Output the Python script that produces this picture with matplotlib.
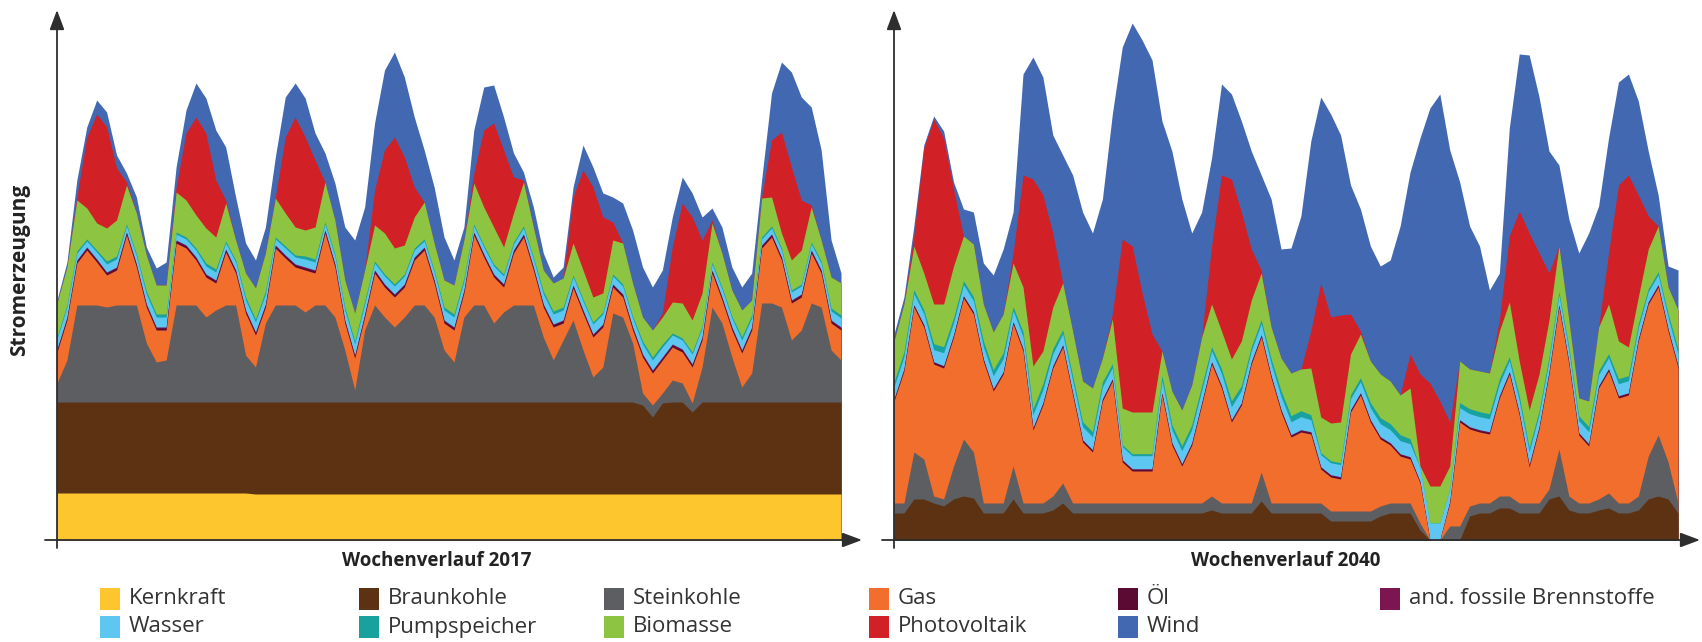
import numpy as np
import matplotlib
matplotlib.use("Agg")
import matplotlib.pyplot as plt
from matplotlib.patches import Rectangle

plt.rcParams['font.family'] = ['Open Sans', 'DejaVu Sans']

W, H = 1702, 642

# Zeitachse: 80 Stuetzstellen ueber eine Woche
stunden = np.linspace(0, 168, 80)

# ---------------- Wochenverlauf 2017 (Oberkanten) ----------------
kern_2017 = [47, 47, 47, 47, 47, 47, 47, 47, 47, 47, 47, 47, 47, 47, 47, 47, 47, 47, 47, 47,
             46, 46, 46, 46, 46, 46, 46, 46, 46, 46, 46, 46, 46, 46, 46, 46, 46, 46, 46, 46,
             46, 46, 46, 46, 46, 46, 46, 46, 46, 46, 46, 46, 46, 46, 46, 46, 46, 46, 46, 46,
             46, 46, 46, 46, 46, 46, 46, 46, 46, 46, 46, 46, 46, 46, 46, 46, 46, 46, 46, 46]
braun_2017 = [138, 138, 138, 138, 138, 138, 138, 138, 138, 138, 138, 138, 138, 138, 138, 138, 138, 138, 138, 138,
              138, 138, 138, 138, 138, 138, 138, 138, 138, 138, 138, 138, 138, 138, 138, 138, 138, 138, 138, 138,
              138, 138, 138, 138, 138, 138, 138, 138, 138, 138, 138, 138, 138, 138, 138, 138, 138, 138, 138, 135,
              123, 137, 138, 138, 128, 138, 138, 138, 138, 138, 138, 138, 138, 138, 138, 138, 138, 138, 138, 138]
stein_2017 = [157, 180, 235, 235, 235, 233, 235, 235, 235, 197, 178, 180, 235, 235, 235, 223, 230, 235, 235, 185,
              173, 217, 235, 235, 235, 228, 235, 235, 223, 190, 150, 210, 235, 223, 213, 223, 235, 235, 223, 190,
              178, 223, 235, 235, 217, 228, 235, 235, 235, 203, 180, 200, 220, 190, 163, 173, 227, 223, 197, 147,
              135, 147, 160, 157, 137, 173, 233, 217, 183, 153, 167, 237, 237, 233, 200, 210, 237, 233, 190, 180]
gas_2017 = [188, 220, 277, 290, 278, 265, 270, 305, 273, 233, 210, 210, 297, 292, 280, 263, 257, 288, 267, 227,
            205, 233, 292, 282, 273, 270, 267, 307, 273, 217, 182, 223, 267, 253, 243, 253, 280, 290, 257, 217,
            210, 247, 305, 283, 263, 253, 287, 303, 270, 233, 213, 217, 252, 227, 203, 213, 253, 243, 210, 183,
            167, 180, 193, 188, 173, 200, 267, 240, 210, 187, 210, 292, 303, 280, 237, 243, 287, 267, 217, 210]
oel_2017 = [2, 2, 2, 2, 2, 2, 2, 2, 2, 2, 2, 2, 2, 2, 2, 2, 2, 2, 2, 2,
            2, 2, 2, 2, 2, 2, 2, 2, 2, 2, 2, 2, 2, 2, 2, 2, 2, 2, 2, 2,
            2, 2, 2, 2, 2, 2, 2, 2, 2, 2, 2, 2, 2, 2, 2, 2, 2, 2, 2, 2,
            2, 2, 2, 2, 2, 2, 2, 2, 2, 2, 2, 2, 2, 2, 2, 2, 2, 2, 2, 2]
fossil_2017 = [1, 1, 1, 1, 1, 1, 1, 1, 1, 1, 1, 1, 1, 1, 1, 1, 1, 1, 1, 1,
               1, 1, 1, 1, 1, 1, 1, 1, 1, 1, 1, 1, 1, 1, 1, 1, 1, 1, 1, 1,
               1, 1, 1, 1, 1, 1, 1, 1, 1, 1, 1, 1, 1, 1, 1, 1, 1, 1, 1, 1,
               1, 1, 1, 1, 1, 1, 1, 1, 1, 1, 1, 1, 1, 1, 1, 1, 1, 1, 1, 1]
wasser_2017 = [10, 10, 7, 6, 7, 8, 8, 6, 8, 10, 10, 10, 6, 6, 7, 8, 8, 6, 8, 10,
               10, 10, 6, 7, 7, 8, 8, 6, 8, 10, 11, 10, 7, 8, 8, 8, 7, 6, 8, 10,
               10, 9, 6, 7, 8, 8, 6, 6, 8, 10, 10, 10, 8, 9, 10, 10, 8, 8, 9, 10,
               10, 10, 9, 9, 10, 9, 6, 8, 9, 10, 9, 6, 6, 7, 8, 8, 6, 7, 9, 9]
pump_2017 = [2, 2, 2, 2, 2, 3, 3, 2, 2, 3, 3, 3, 2, 2, 2, 3, 3, 2, 2, 3,
             3, 3, 2, 2, 2, 3, 3, 2, 2, 3, 3, 3, 2, 2, 2, 2, 2, 2, 2, 3,
             3, 3, 2, 2, 2, 2, 2, 2, 2, 3, 3, 3, 2, 2, 2, 2, 2, 2, 2, 3,
             3, 3, 2, 2, 2, 2, 2, 2, 2, 3, 3, 2, 2, 2, 2, 2, 2, 2, 3, 3]
bio_2017 = [237, 273, 340, 332, 317, 312, 320, 355, 327, 285, 255, 255, 348, 340, 325, 312, 303, 337, 300, 267,
            252, 287, 342, 327, 313, 310, 313, 358, 320, 260, 227, 270, 315, 307, 292, 295, 323, 338, 297, 260,
            255, 300, 357, 333, 313, 293, 327, 358, 313, 270, 257, 262, 297, 270, 243, 247, 300, 297, 257, 223,
            210, 223, 238, 237, 220, 247, 317, 287, 250, 230, 240, 342, 343, 307, 280, 290, 333, 300, 263, 257]
pv_2017 = [237, 273, 343, 403, 426, 413, 372, 358, 327, 285, 255, 255, 353, 407, 423, 407, 360, 340, 300, 267,
           252, 287, 343, 403, 423, 403, 380, 358, 320, 260, 227, 270, 350, 390, 403, 383, 353, 338, 297, 260,
           255, 300, 367, 410, 417, 390, 363, 360, 313, 270, 257, 262, 343, 370, 353, 323, 318, 297, 257, 223,
           210, 227, 293, 337, 323, 300, 320, 287, 250, 230, 240, 343, 400, 408, 373, 340, 335, 300, 263, 257]
wind_2017 = [240, 278, 360, 413, 440, 428, 385, 367, 343, 293, 272, 278, 373, 430, 457, 442, 410, 393, 343, 297,
             280, 313, 383, 443, 457, 442, 407, 387, 357, 313, 300, 333, 417, 470, 488, 463, 423, 390, 353, 303,
             280, 313, 410, 453, 455, 423, 387, 368, 333, 287, 263, 273, 353, 395, 373, 347, 343, 337, 310, 273,
             253, 270, 323, 363, 347, 323, 332, 313, 273, 253, 267, 360, 447, 478, 468, 443, 433, 390, 300, 267]

# ---------------- Wochenverlauf 2040 ----------------
kern_2040 = [0, 0, 0, 0, 0, 0, 0, 0, 0, 0, 0, 0, 0, 0, 0, 0, 0, 0, 0, 0,
             0, 0, 0, 0, 0, 0, 0, 0, 0, 0, 0, 0, 0, 0, 0, 0, 0, 0, 0, 0,
             0, 0, 0, 0, 0, 0, 0, 0, 0, 0, 0, 0, 0, 0, 0, 0, 0, 0, 0, 0,
             0, 0, 0, 0, 0, 0, 0, 0, 0, 0, 0, 0, 0, 0, 0, 0, 0, 0, 0, 0]
braun_2040 = [27, 27, 41, 41, 37, 34, 41, 44, 42, 27, 27, 27, 41, 27, 27, 27, 30, 37, 27, 27,
              27, 27, 27, 27, 27, 27, 27, 27, 27, 27, 27, 27, 30, 27, 27, 27, 27, 39, 27, 27,
              27, 27, 27, 27, 19, 19, 19, 19, 19, 24, 27, 27, 27, 10, 0, 0, 0, 0, 24, 27,
              27, 32, 32, 27, 27, 27, 41, 44, 30, 27, 27, 30, 32, 27, 27, 30, 41, 44, 41, 27]
stein_2040 = [37, 37, 88, 81, 44, 41, 74, 101, 88, 37, 37, 37, 74, 37, 37, 37, 44, 57, 37, 37,
              37, 37, 37, 37, 37, 37, 37, 37, 37, 37, 37, 37, 44, 37, 37, 37, 37, 68, 37, 37,
              37, 37, 37, 37, 29, 29, 29, 29, 29, 34, 37, 37, 37, 17, 0, 0, 14, 14, 34, 37,
              37, 44, 44, 37, 37, 37, 51, 91, 44, 37, 37, 41, 47, 37, 37, 44, 84, 105, 78, 37]
gas_2040 = [139, 169, 233, 213, 176, 172, 203, 242, 226, 179, 149, 166, 216, 189, 110, 135, 172, 193, 145, 98,
            88, 139, 159, 78, 69, 69, 69, 145, 95, 74, 95, 135, 176, 152, 118, 135, 176, 203, 162, 128,
            103, 108, 106, 71, 63, 61, 128, 145, 118, 101, 95, 84, 81, 57, 0, 0, 37, 118, 111, 108,
            106, 142, 166, 125, 73, 111, 166, 233, 176, 105, 94, 152, 169, 142, 145, 199, 236, 253, 209, 172]
oel_2040 = [1.5, 1.5, 1.5, 1.5, 1.5, 1.5, 1.5, 1.5, 1.5, 1.5, 1.5, 1.5, 1.5, 1.5, 1.5, 1.5, 1.5, 1.5, 1.5, 1.5,
            1.5, 1.5, 1.5, 1.5, 1.5, 1.5, 1.5, 1.5, 1.5, 1.5, 1.5, 1.5, 1.5, 1.5, 1.5, 1.5, 1.5, 1.5, 1.5, 1.5,
            1.5, 1.5, 1.5, 1.5, 1.5, 1.5, 1.5, 1.5, 1.5, 1.5, 1.5, 1.5, 1.5, 1.0, 0, 0, 1.0, 1.5, 1.5, 1.5,
            1.5, 1.5, 1.5, 1.5, 1.5, 1.5, 1.5, 1.5, 1.5, 1.5, 1.5, 1.5, 1.5, 1.5, 1.5, 1.5, 1.5, 1.5, 1.5, 1.5]
fossil_2040 = [0.8, 0.8, 0.8, 0.8, 0.8, 0.8, 0.8, 0.8, 0.8, 0.8, 0.8, 0.8, 0.8, 0.8, 0.8, 0.8, 0.8, 0.8, 0.8, 0.8,
               0.8, 0.8, 0.8, 0.8, 0.8, 0.8, 0.8, 0.8, 0.8, 0.8, 0.8, 0.8, 0.8, 0.8, 0.8, 0.8, 0.8, 0.8, 0.8, 0.8,
               0.8, 0.8, 0.8, 0.8, 0.8, 0.8, 0.8, 0.8, 0.8, 0.8, 0.8, 0.8, 0.8, 0.5, 0, 0, 0.5, 0.8, 0.8, 0.8,
               0.8, 0.8, 0.8, 0.8, 0.8, 0.8, 0.8, 0.8, 0.8, 0.8, 0.8, 0.8, 0.8, 0.8, 0.8, 0.8, 0.8, 0.8, 0.8, 0.8]
wasser_2040 = [12, 12, 11, 11, 12, 13, 12, 11, 11, 12, 13, 13, 11, 12, 13, 13, 12, 11, 12, 13,
               13, 12, 11, 13, 13, 13, 13, 12, 13, 13, 13, 12, 11, 12, 13, 12, 11, 11, 12, 13,
               13, 13, 12, 12, 12, 12, 11, 11, 12, 13, 13, 13, 13, 14, 17, 17, 12, 12, 13, 13,
               13, 12, 11, 12, 13, 12, 11, 10, 11, 12, 12, 11, 11, 12, 12, 11, 10, 10, 11, 12]
pump_2040 = [5, 5, 4, 4, 6, 6, 5, 4, 4, 6, 6, 6, 4, 5, 6, 6, 5, 4, 5, 5,
             5, 5, 4, 2, 2, 2, 2, 5, 5, 5, 5, 5, 4, 5, 6, 5, 4, 4, 5, 6,
             6, 6, 5, 2, 2, 2, 4, 4, 5, 6, 6, 6, 5, 0, 0, 0, 0, 5, 5, 5,
             5, 5, 4, 5, 4, 4, 4, 3, 4, 5, 5, 4, 4, 5, 5, 4, 3, 3, 4, 5]
bio_2040 = [199, 236, 294, 267, 236, 236, 274, 304, 296, 236, 208, 226, 277, 253, 174, 189, 233, 257, 209, 159,
            152, 182, 221, 132, 128, 128, 128, 189, 149, 130, 155, 203, 236, 209, 181, 199, 240, 267, 213, 182,
            167, 171, 172, 123, 117, 118, 186, 206, 179, 166, 159, 145, 152, 74, 54, 54, 74, 179, 171, 169,
            167, 209, 238, 179, 130, 166, 220, 294, 220, 142, 139, 213, 236, 199, 193, 243, 291, 314, 253, 230]
pv_2040 = [199, 236, 304, 392, 421, 402, 351, 304, 296, 236, 208, 226, 287, 365, 361, 345, 307, 257, 209, 159,
           152, 182, 226, 301, 294, 247, 206, 189, 149, 130, 155, 203, 294, 365, 361, 328, 291, 270, 213, 182,
           167, 171, 209, 257, 223, 225, 226, 209, 179, 166, 159, 145, 186, 166, 157, 139, 118, 179, 171, 169,
           167, 220, 304, 329, 307, 287, 267, 294, 220, 142, 139, 213, 287, 355, 365, 345, 324, 314, 253, 230]
wind_2040 = [206, 243, 314, 395, 424, 409, 358, 331, 328, 277, 265, 291, 328, 466, 483, 463, 405, 385, 365, 328,
             307, 341, 426, 493, 517, 500, 480, 419, 389, 341, 307, 328, 382, 456, 446, 419, 389, 365, 341, 291,
             292, 324, 399, 443, 426, 405, 355, 331, 294, 274, 280, 314, 368, 402, 432, 446, 390, 358, 314, 294,
             250, 267, 412, 486, 485, 443, 389, 375, 321, 287, 307, 334, 402, 458, 466, 439, 389, 345, 274, 270]

namen = ["Kernkraft", "Braunkohle", "Steinkohle", "Gas", "Öl", "and. fossile Brennstoffe",
         "Wasser", "Pumpspeicher", "Biomasse", "Photovoltaik", "Wind"]
farben = ["#FEC62E", "#5C3212", "#5D5E61", "#F16E2D", "#5A0A33", "#7C1650",
          "#5DC6F1", "#19A19E", "#8DC441", "#D22027", "#4168B0"]

AX_COL = "#2e2e2e"


def px_ax(x0, x_tip):
    ax = fig.add_axes([x0 / W, (H - 540) / H, (x_tip - x0) / W, 530 / H])
    ax.set_xlim(0, 168 * (x_tip - x0) / 784)
    ax.set_ylim(0, 530)
    ax.axis("off")
    breite = x_tip - x0
    kw = dict(arrowstyle="-|>,head_length=0.75,head_width=0.28", color=AX_COL,
              lw=1.3, mutation_scale=16, shrinkA=0, shrinkB=0)
    ax.annotate("", xy=(0, 1), xytext=(0, -8 / 530), xycoords="axes fraction",
                arrowprops=kw, annotation_clip=False, zorder=5)
    ax.annotate("", xy=(1, 0), xytext=(-12 / breite, 0), xycoords="axes fraction",
                arrowprops=kw, annotation_clip=False, zorder=5)
    return ax


def zeichne(ax, kern, braun, stein, gas, oel, fossil, wasser, pump, bio, pv, wind):
    o1 = np.asarray(kern, float)
    o2 = np.maximum(braun, o1)
    o3 = np.maximum(stein, o2)
    o4 = np.maximum(gas, o3)
    o5 = o4 + np.asarray(oel)
    o6 = o5 + np.asarray(fossil)
    o7 = o6 + np.asarray(wasser)
    o8 = o7 + np.asarray(pump)
    o9 = np.maximum(bio, o8)
    o10 = np.maximum(pv, o9)
    o11 = np.maximum(wind, o10)
    kanten = [o1, o2, o3, o4, o5, o6, o7, o8, o9, o10, o11]
    # von oben nach unten, jede Flaeche ab 0 -> keine Fugen
    for top, farbe in reversed(list(zip(kanten, farben))):
        if top.max() > 0:
            ax.fill_between(stunden, 0, top, color=farbe, lw=0, zorder=1)


fig = plt.figure(figsize=(W / 100, H / 100), dpi=100)

ax1 = px_ax(57, 862)
zeichne(ax1, kern_2017, braun_2017, stein_2017, gas_2017, oel_2017, fossil_2017,
        wasser_2017, pump_2017, bio_2017, pv_2017, wind_2017)

ax2 = px_ax(894, 1700)
zeichne(ax2, kern_2040, braun_2040, stein_2040, gas_2040, oel_2040, fossil_2040,
        wasser_2040, pump_2040, bio_2040, pv_2040, wind_2040)

# Achsentitel
fig.text(20 / W, 1 - 270 / H, "Stromerzeugung", rotation=90, ha="center", va="center",
         fontsize=15, fontweight="bold", color="#222222")
fig.text(437 / W, 1 - 561 / H, "Wochenverlauf 2017", ha="center", va="center",
         fontsize=13.5, fontweight="bold", color="#222222")
fig.text(1286 / W, 1 - 561 / H, "Wochenverlauf 2040", ha="center", va="center",
         fontsize=13.5, fontweight="bold", color="#222222")

# Legende (2 Zeilen, 6 Spalten)
spalten = [100, 359, 604, 869, 1118, 1380]
zeilen = [599, 627]
for i, (name, farbe) in enumerate(zip(namen, farben)):
    if i < 6:
        x, y = spalten[i], zeilen[0]
    else:
        x, y = spalten[i - 6], zeilen[1]
    fig.add_artist(Rectangle((x / W, 1 - (y + 11) / H), 20 / W, 22 / H,
                             transform=fig.transFigure, facecolor=farbe, edgecolor="none"))
    fig.text((x + 29) / W, 1 - y / H, name, ha="left", va="center",
             fontsize=16, color="#333333")

fig.savefig("out.png", dpi=100)
